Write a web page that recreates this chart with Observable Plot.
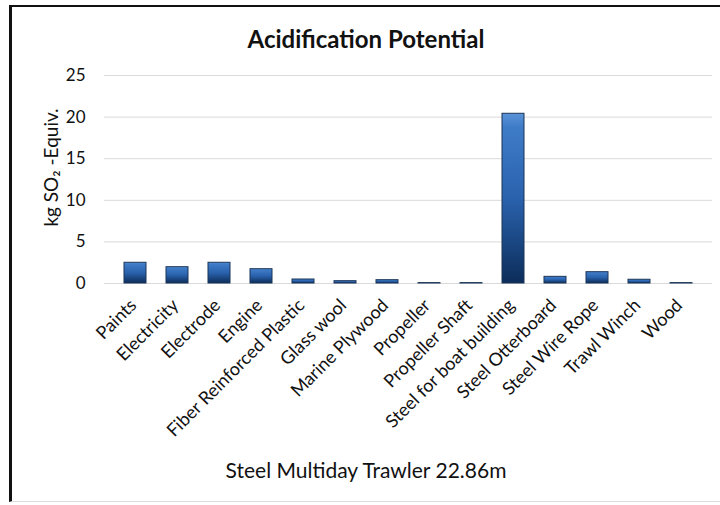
<!DOCTYPE html>
<html>
<head>
<meta charset="utf-8">
<script src="https://cdn.jsdelivr.net/npm/d3@7"></script>
<script src="https://cdn.jsdelivr.net/npm/@observablehq/plot@0.6"></script>
<style>
  html, body { margin: 0; padding: 0; background: #fff; width: 720px; height: 505px; overflow: hidden; }
  #frame { position: absolute; left: 9px; top: 5px; width: 720px; height: 497px;
    border-top: 2px solid #111; border-left: 3px solid #111; border-bottom: 1px solid #ddd; box-sizing: border-box; }
  #chart { position: absolute; left: 0; top: 0; }
  .title { position: absolute; left: 10px; width: 712px; top: 24px; text-align: center;
    font-family: Lato, "Open Sans", sans-serif; font-weight: bold; font-size: 24px; color: #111; }
  .caption { position: absolute; left: 10px; width: 712px; top: 457px; text-align: center;
    font-family: Lato, "Open Sans", sans-serif; font-size: 21px; color: #111; }
</style>
</head>
<body>
<div id="frame"></div>
<div id="chart"></div>
<div class="title">Acidification Potential</div>
<div class="caption">Steel Multiday Trawler 22.86m</div>
<script>
const categories = ["Paints", "Electricity", "Electrode", "Engine", "Fiber Reinforced Plastic", "Glass wool",
  "Marine Plywood", "Propeller", "Propeller Shaft", "Steel for boat building", "Steel Otterboard",
  "Steel Wire Rope", "Trawl Winch", "Wood"];
const values = [2.49, 1.96, 2.49, 1.72, 0.48, 0.28, 0.4, 0.05, 0.05, 20.4, 0.8, 1.36, 0.45, 0.05];
const yTicks = [0, 5, 10, 15, 20, 25];

const data = categories.map((c, i) => ({category: c, value: values[i]}));

const plot = Plot.plot({
  width: 720,
  height: 505,
  marginLeft: 104,
  marginRight: 8,
  marginTop: 75,
  marginBottom: 222,
  style: {fontFamily: "Lato, 'Open Sans', sans-serif", background: "transparent", color: "#111"},
  x: {domain: categories, padding: 0.47, axis: null},
  y: {domain: [0, 25], ticks: yTicks, label: null},
  marks: [
    Plot.gridY(yTicks, {stroke: "#d9d9d9", strokeOpacity: 1, strokeWidth: 1}),
    Plot.axisY(yTicks, {tickSize: 0, tickPadding: 19, fontSize: 17, label: null}),
    Plot.barY(data, {x: "category", y: "value", fill: "url(#barGrad)", stroke: "#1b3557", strokeWidth: 1}),
    Plot.text(categories, {x: d => d, frameAnchor: "bottom", rotate: -45, textAnchor: "end",
      dx: 2, dy: 23, fontSize: 18, fill: "#111"}),
    Plot.text(["kg SO\u2082 -Equiv."], {frameAnchor: "left", textAnchor: "middle", dx: -53, dy: -12,
      rotate: -90, fontSize: 19, fill: "#111"})
  ]
});

const defs = document.createElementNS("http://www.w3.org/2000/svg", "defs");
defs.innerHTML = `<linearGradient id="barGrad" x1="0" y1="0" x2="0" y2="1">
  <stop offset="0" stop-color="#5b93d8"/>
  <stop offset="0.08" stop-color="#3f7cc8"/>
  <stop offset="0.5" stop-color="#2a62ad"/>
  <stop offset="1" stop-color="#0c2d5a"/>
</linearGradient>`;
plot.insertBefore(defs, plot.firstChild);
document.getElementById("chart").appendChild(plot);
</script>
</body>
</html>
